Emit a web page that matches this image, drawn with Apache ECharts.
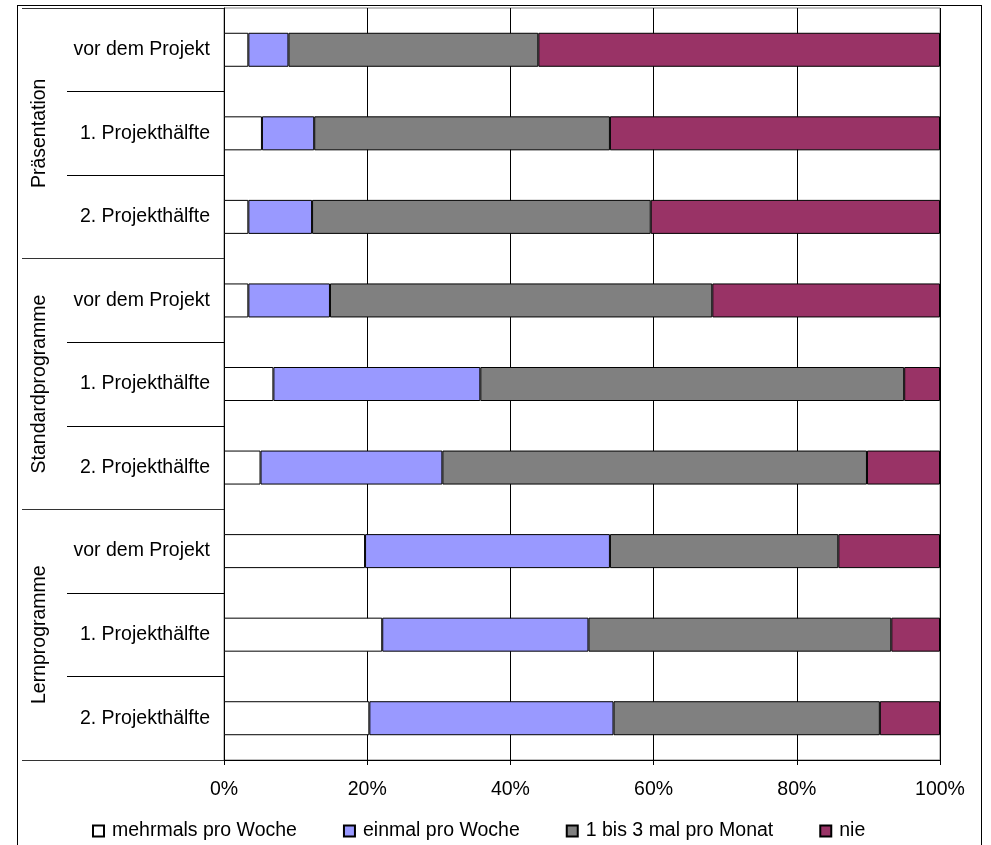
<!DOCTYPE html>
<html>
<head>
<meta charset="utf-8">
<script src="https://cdn.jsdelivr.net/npm/echarts@6/dist/echarts.min.js"></script>
<style>
  html, body { margin: 0; padding: 0; background: #fff; overflow: hidden; }
  #frame { position: absolute; left: 17px; top: 5px; width: 965px; height: 900px; border: 1.5px solid #000; box-sizing: border-box; }
  #chart { position: absolute; left: 0; top: 0; width: 991px; height: 845px; }
</style>
</head>
<body>
<div id="frame"></div>
<div id="chart"></div>
<script>
// Survey: how often each kind of software was used, per project phase (in %)
const groups = ['Präsentation', 'Standardprogramme', 'Lernprogramme'];
const phases = [
  'vor dem Projekt', '1. Projekthälfte', '2. Projekthälfte',
  'vor dem Projekt', '1. Projekthälfte', '2. Projekthälfte',
  'vor dem Projekt', '1. Projekthälfte', '2. Projekthälfte'
];
const seriesNames = ['mehrmals pro Woche', 'einmal pro Woche', '1 bis 3 mal pro Monat', 'nie'];
const mehrmals = [3.4, 5.3, 3.4, 3.4, 6.9, 5.1, 19.7, 22.1, 20.3];
const einmal   = [5.6, 7.3, 8.9, 11.4, 28.9, 25.4, 34.2, 28.8, 34.1];
const monatlich = [34.9, 41.3, 47.3, 53.4, 59.2, 59.3, 31.9, 42.3, 37.2];
const nie      = [56.1, 46.1, 40.4, 31.8, 5.0, 10.2, 14.2, 6.8, 8.4];
const xTicks = [0, 20, 40, 60, 80, 100];

const colors = ['#FFFFFF', '#9999FF', '#808080', '#993366'];
const values = [mehrmals, einmal, monatlich, nie];
const font = 'Liberation Sans, Arial, sans-serif';
const fs = 19.5;

const chart = echarts.init(document.getElementById('chart'), null, { renderer: 'canvas' });
chart.setOption({
  animation: false,
  textStyle: { fontFamily: font },
  grid: {
    left: 224, right: 51, top: 8, bottom: 85,
    show: true, borderColor: '#808080', borderWidth: 1
  },
  legend: {
    left: 87, top: 816,
    itemWidth: 11, itemHeight: 11, itemGap: 46,
    icon: 'rect',
    textStyle: { fontFamily: font, fontSize: fs, color: '#000', padding: [0, 0, 0, 3] },
    data: seriesNames
  },
  xAxis: {
    type: 'value',
    min: xTicks[0], max: xTicks[xTicks.length - 1], interval: 20,
    axisLine: { show: true, lineStyle: { color: '#000', width: 1 } },
    axisTick: { show: true, length: 5, lineStyle: { color: '#000' } },
    axisLabel: { formatter: '{value}%', margin: 20, fontSize: fs, color: '#000', fontFamily: font },
    splitLine: { show: true, lineStyle: { color: '#000', width: 1 } }
  },
  yAxis: [
    {
      type: 'category',
      data: phases,
      inverse: true,
      axisLine: { show: true, lineStyle: { color: '#000', width: 1 } },
      axisTick: { show: true, length: 157, lineStyle: { color: '#000' } },
      axisLabel: { margin: 14, fontSize: fs, color: '#000', fontFamily: font },
      splitLine: { show: false }
    },
    {
      type: 'category',
      data: groups,
      inverse: true,
      position: 'left',
      axisLine: { show: false },
      axisTick: { show: true, length: 202, lineStyle: { color: '#333' } },
      axisLabel: { rotate: 90, margin: 174, fontSize: fs, color: '#000', fontFamily: font },
      splitLine: { show: false }
    }
  ],
  series: seriesNames.map((name, i) => ({
    name: name,
    type: 'bar',
    stack: 'total',
    yAxisIndex: 0,
    barWidth: 34,
    data: values[i],
    itemStyle: { color: colors[i], borderColor: '#000', borderWidth: 1 }
  }))
});
</script>
</body>
</html>
